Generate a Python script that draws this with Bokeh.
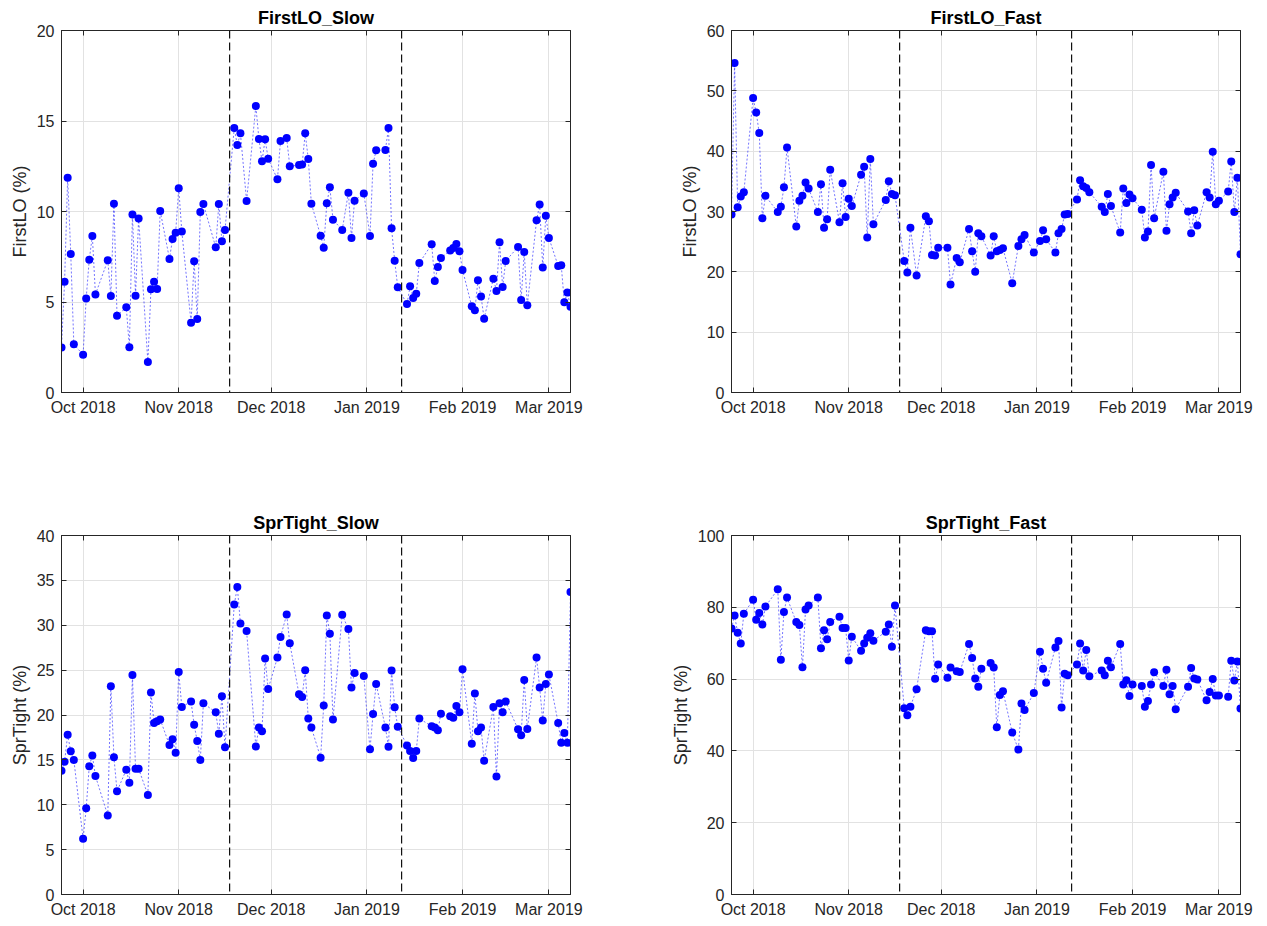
import pandas as pd
from bokeh.plotting import figure
from bokeh.models import (Range1d, FixedTicker, LinearAxis, DatetimeAxis, Span,
                          DatetimeTickFormatter, ColumnDataSource)
from bokeh.layouts import column, row
from bokeh.embed import file_html
from bokeh.resources import INLINE

# ---------------- data ----------------
# trading calendar (weekdays, bond-market holidays excluded)
start_date = "2018-09-24"
end_date = "2019-03-08"
holidays = ["2018-10-08", "2018-11-12", "2018-11-22", "2018-12-05",
            "2018-12-25", "2019-01-01", "2019-01-21", "2019-02-18"]

regime_breaks = ["2018-11-17 12:00", "2019-01-12 06:00"]

month_ticks = ["2018-10-01", "2018-11-01", "2018-12-01", "2019-01-01",
               "2019-02-01", "2019-03-01"]
month_labels = ["Oct 2018", "Nov 2018", "Dec 2018", "Jan 2019", "Feb 2019", "Mar 2019"]

firstlo_slow = [
    2.48, 6.12, 11.87, 7.65, 2.66,
    2.09, 5.20, 7.34, 8.65, 5.42,
    7.30, 5.33, 10.43, 4.24,
    4.71, 2.50, 9.83, 5.35, 9.62,
    1.68, 5.70, 6.12, 5.72, 10.03,
    7.38, 8.48, 8.83, 11.28, 8.90,
    3.86, 7.25, 4.06, 9.97, 10.41,
    8.02, 10.41, 8.35, 8.98,
    14.61, 13.67, 14.32, 10.58,
    15.83, 14.00, 12.77, 13.99, 12.92,
    11.78, 13.90, 14.06, 12.50,
    12.57, 12.59, 14.32, 12.90, 10.43,
    8.66, 8.00, 10.45, 11.34, 9.55,
    8.98, 11.04, 8.54, 10.60,
    11.00, 8.65, 12.64, 13.38,
    13.40, 14.61, 9.07, 7.28, 5.81,
    4.89, 5.87, 5.22, 5.46, 7.15,
    8.19, 6.16, 6.93, 7.43,
    7.84, 7.98, 8.20, 7.80, 6.77,
    4.76, 4.54, 6.20, 5.31, 4.08,
    6.29, 5.61, 8.30, 5.83, 7.27,
    8.04, 5.11, 7.76, 4.82,
    9.51, 10.38, 6.90, 9.77, 8.54,
    6.99, 7.03, 4.98, 5.52, 4.74,
]

firstlo_fast = [
    29.5, 54.6, 30.7, 32.5, 33.2,
    48.8, 46.4, 43.0, 28.9, 32.6,
    29.9, 30.8, 34.0, 40.6,
    27.5, 31.8, 32.6, 34.8, 33.8,
    29.9, 34.5, 27.3, 28.7, 36.9,
    28.2, 34.7, 29.1, 32.1, 30.9,
    36.1, 37.4, 25.7, 38.7, 27.9,
    31.9, 35.0, 32.9, 32.7,
    21.8, 19.9, 27.3, 19.4,
    29.2, 28.4, 22.8, 22.7, 24.0,
    24.0, 17.9, 22.3, 21.6,
    27.1, 23.4, 20.0, 26.4, 25.9,
    22.7, 25.9, 23.4, 23.6, 23.9,
    18.1, 24.3, 25.4, 26.1,
    23.2, 25.1, 26.9, 25.4,
    23.2, 26.4, 27.1, 29.5, 29.6,
    32.0, 35.2, 34.2, 33.9, 33.2,
    30.8, 29.9, 32.9, 30.9,
    26.5, 33.8, 31.4, 32.8, 32.2,
    30.3, 25.7, 26.7, 37.7, 28.9,
    36.6, 26.8, 31.2, 32.3, 33.1,
    30.0, 26.4, 30.2, 27.7,
    33.2, 32.3, 39.9, 31.2, 31.8,
    33.3, 38.3, 29.9, 35.6, 22.9,
]

sprtight_slow = [
    13.8, 14.8, 17.8, 15.95, 15.0,
    6.2, 9.6, 14.3, 15.5, 13.2,
    8.8, 23.2, 15.3, 11.5,
    13.9, 12.45, 24.45, 14.0, 14.0,
    11.1, 22.5, 19.1, 19.3, 19.5,
    16.65, 17.3, 15.8, 24.8, 20.9,
    21.5, 18.9, 17.1, 15.0, 21.3,
    20.3, 17.9, 22.1, 16.4,
    32.3, 34.25, 30.2, 29.35,
    16.5, 18.6, 18.2, 26.3, 22.9,
    26.4, 28.7, 31.2, 28.0,
    22.3, 22.0, 25.0, 19.6, 18.6,
    15.25, 21.07, 31.1, 29.06, 19.5,
    31.16, 29.57, 23.06, 24.68,
    24.34, 16.17, 20.1, 23.46,
    18.6, 16.47, 24.97, 20.85, 18.7,
    16.6, 15.99, 15.2, 16.0, 19.6,
    18.75, 18.6, 18.3, 20.15,
    19.85, 19.7, 21.0, 20.3, 25.1,
    16.8, 22.4, 18.2, 18.6, 14.9,
    20.9, 13.15, 21.3, 20.3, 21.5,
    18.4, 17.75, 23.9, 18.45,
    26.4, 23.06, 19.4, 23.46, 24.5,
    19.1, 16.9, 18.0, 16.9, 33.7,
]

sprtight_fast = [
    74.1, 77.7, 72.9, 69.9, 78.2,
    82.1, 76.5, 78.4, 75.2, 80.2,
    85.0, 65.4, 78.7, 82.7,
    75.9, 75.1, 63.3, 79.4, 80.5,
    82.7, 68.6, 73.6, 71.1, 75.9,
    77.4, 74.2, 74.2, 65.2, 71.8,
    67.9, 69.9, 71.5, 72.8, 70.7,
    73.2, 75.2, 69.0, 80.5,
    51.9, 49.9, 52.3, 57.2,
    73.6, 73.3, 73.3, 60.1, 64.1,
    60.4, 63.2, 62.2, 62.0,
    69.8, 65.9, 60.2, 57.9, 62.9,
    64.5, 63.2, 46.6, 55.6, 56.6,
    45.1, 40.4, 53.2, 51.4,
    56.1, 67.6, 62.9, 59.0,
    68.8, 70.6, 52.1, 61.5, 61.1,
    64.1, 69.9, 62.4, 68.1, 60.8,
    62.4, 61.1, 65.1, 63.3,
    69.8, 58.5, 59.7, 55.3, 58.5,
    58.1, 52.3, 53.9, 58.5, 61.9,
    58.1, 62.6, 55.8, 58.1, 51.6,
    57.9, 63.1, 60.2, 59.9,
    54.1, 56.4, 60.0, 55.4, 55.4,
    55.1, 65.1, 59.6, 64.9, 51.8,
]

dates = pd.bdate_range(start_date, end_date, freq="C", holidays=holidays)

panels = [
    ("FirstLO_Slow", "FirstLO (%)", firstlo_slow, 20, 5),
    ("FirstLO_Fast", "FirstLO (%)", firstlo_fast, 60, 10),
    ("SprTight_Slow", "SprTight (%)", sprtight_slow, 40, 5),
    ("SprTight_Fast", "SprTight (%)", sprtight_fast, 100, 20),
]

FONT = "Liberation Sans"
AX = "#262626"
GRID = "#e2e2e2"


def ms(s):
    return pd.Timestamp(s).value / 1e6


def make_panel(title, ylabel, vals, ymax, ystep, width, height, bl, br, bt, bb):
    p = figure(width=width, height=height, x_axis_type="datetime",
               output_backend="svg", toolbar_location=None,
               min_border_left=bl, min_border_right=br,
               min_border_top=bt, min_border_bottom=bb,
               x_range=Range1d(dates[0], dates[-1]),
               y_range=Range1d(0, ymax), title=title)
    p.title.align = "center"
    p.title.text_font = FONT
    p.title.text_font_size = "18px"
    p.title.text_font_style = "bold"
    p.title.text_color = "#000000"
    p.title.standoff = 5

    p.background_fill_color = "white"
    p.border_fill_color = "white"
    p.outline_line_color = AX
    p.outline_line_width = 1

    xt = FixedTicker(ticks=[ms(t) for t in month_ticks])
    fmt = DatetimeTickFormatter(days="%b %Y", months="%b %Y", years="%b %Y",
                                hours="%b %Y", minutes="%b %Y")
    yt = FixedTicker(ticks=list(range(0, ymax + 1, ystep)))

    xa = p.xaxis[0]
    xa.ticker = xt
    xa.formatter = fmt
    ya = p.yaxis[0]
    ya.ticker = yt
    ya.axis_label = ylabel
    for a in (xa, ya):
        a.axis_line_color = AX
        a.major_tick_line_color = AX
        a.major_tick_in = 5
        a.major_tick_out = 0
        a.minor_tick_line_color = None
        a.major_label_text_font = FONT
        a.major_label_text_font_size = "16px"
        a.major_label_text_color = AX
        a.major_label_standoff = 7
    xa.major_label_standoff = 6
    ya.axis_label_text_font = FONT
    ya.axis_label_text_font_size = "18px"
    ya.axis_label_text_font_style = "normal"
    ya.axis_label_text_color = AX
    ya.axis_label_standoff = 4

    # box axes (right / top) with inward ticks, labels not drawn
    ra = LinearAxis(ticker=yt, major_tick_in=5, major_tick_out=0,
                    minor_tick_line_color=None, axis_line_color=AX,
                    major_tick_line_color=AX, major_label_text_font_size="1px",
                    major_label_text_color=None, major_label_standoff=0)
    ta = DatetimeAxis(ticker=xt, major_tick_in=5, major_tick_out=0,
                      minor_tick_line_color=None, axis_line_color=AX,
                      major_tick_line_color=AX, major_label_text_font_size="1px",
                      major_label_text_color=None, major_label_standoff=0)
    p.add_layout(ra, "right")
    p.add_layout(ta, "above")

    p.xgrid.ticker = xt
    p.ygrid.ticker = yt
    p.grid.grid_line_color = GRID
    p.grid.grid_line_width = 1

    for b in regime_breaks:
        p.add_layout(Span(location=ms(b), dimension="height", line_color="#111111",
                          line_dash="8 4", line_width=1.2))

    src = ColumnDataSource(dict(x=dates, y=vals))
    p.line("x", "y", source=src, line_color="blue", line_width=1,
           line_alpha=0.55, line_dash="2 2")
    p.scatter("x", "y", source=src, size=8, fill_color="blue",
              line_color="blue", line_width=0)
    return p


p1 = make_panel(*panels[0], width=648, height=508, bl=61, br=78, bt=30, bb=116)
p2 = make_panel(*panels[1], width=607, height=508, bl=83, br=15, bt=30, bb=116)
p3 = make_panel(*panels[2], width=648, height=414, bl=61, br=78, bt=24, bb=28)
p4 = make_panel(*panels[3], width=607, height=414, bl=83, br=15, bt=24, bb=28)

layout = column(row(p1, p2), row(p3, p4))
open("out.html", "w").write(file_html(layout, INLINE))
